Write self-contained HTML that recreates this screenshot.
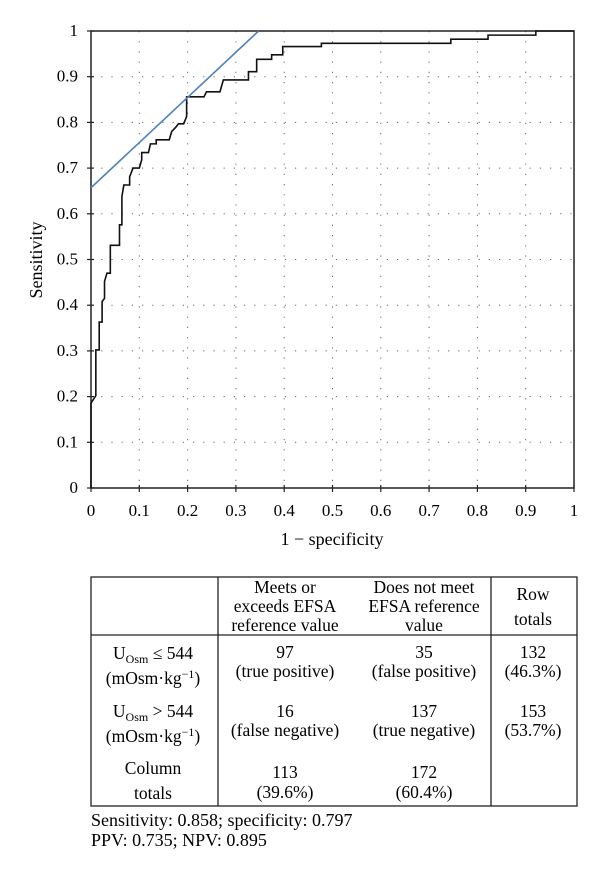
<!DOCTYPE html>
<html><head><meta charset="utf-8"><style>
html,body{margin:0;padding:0;background:#fff;}
svg{display:block;font-family:"Liberation Serif",serif;}
</style></head><body>
<svg id="chart" width="600" height="882" viewBox="0 0 600 882">
<g id="grid"></g>
<g id="axes"></g>
<g id="series"></g>
<text x="332" y="545" font-size="18" text-anchor="middle">1 − specificity</text>
<text transform="translate(42,260) rotate(-90)" font-size="18" text-anchor="middle">Sensitivity</text>

<g font-size="17.5" text-anchor="middle">
<rect x="91" y="577" width="486" height="229" fill="none" stroke="#222" stroke-width="1.3"/>
<line x1="218" y1="577" x2="218" y2="806" stroke="#222" stroke-width="1.3"/>
<line x1="491" y1="577" x2="491" y2="806" stroke="#222" stroke-width="1.3"/>
<line x1="91" y1="635" x2="577" y2="635" stroke="#222" stroke-width="1.3"/>
<g><text x="285" y="593">Meets or</text><text x="285" y="612">exceeds EFSA</text><text x="285" y="631">reference value</text></g>
<g><text x="424" y="593">Does not meet</text><text x="424" y="612">EFSA reference</text><text x="424" y="631">value</text></g>
<g><text x="533" y="600">Row</text><text x="533" y="625">totals</text></g>
<g><text x="153" y="659">U<tspan font-size="12" dy="4">Osm</tspan><tspan dy="-4"> ≤ 544</tspan></text><text x="153" y="684">(mOsm·kg<tspan font-size="12" dy="-6">−1</tspan><tspan dy="6">)</tspan></text></g>
<g><text x="285" y="658">97</text><text x="285" y="677">(true positive)</text></g>
<g><text x="424" y="658">35</text><text x="424" y="677">(false positive)</text></g>
<g><text x="533" y="658">132</text><text x="533" y="677">(46.3%)</text></g>
<g><text x="153" y="717">U<tspan font-size="12" dy="4">Osm</tspan><tspan dy="-4"> &gt; 544</tspan></text><text x="153" y="742">(mOsm·kg<tspan font-size="12" dy="-6">−1</tspan><tspan dy="6">)</tspan></text></g>
<g><text x="285" y="717">16</text><text x="285" y="736">(false negative)</text></g>
<g><text x="424" y="717">137</text><text x="424" y="736">(true negative)</text></g>
<g><text x="533" y="717">153</text><text x="533" y="736">(53.7%)</text></g>
<g><text x="153" y="774">Column</text><text x="153" y="799">totals</text></g>
<g><text x="285" y="778">113</text><text x="285" y="798">(39.6%)</text></g>
<g><text x="424" y="778">172</text><text x="424" y="798">(60.4%)</text></g>
</g>
<text x="91" y="826" font-size="18">Sensitivity: 0.858; specificity: 0.797</text>
<text x="91" y="846" font-size="18" dy="0">PPV: 0.735; NPV: 0.895</text>
</svg>
<script>
const xTicks = [0,0.1,0.2,0.3,0.4,0.5,0.6,0.7,0.8,0.9,1];
const yTicks = [0,0.1,0.2,0.3,0.4,0.5,0.6,0.7,0.8,0.9,1];
const xTickLabels = ["0","0.1","0.2","0.3","0.4","0.5","0.6","0.7","0.8","0.9","1"];
const yTickLabels = ["0","0.1","0.2","0.3","0.4","0.5","0.6","0.7","0.8","0.9","1"];
const rocFpr  = [0,0,0.01,0.01,0.017,0.017,0.023,0.023,0.028,0.028,0.033,0.04,0.04,0.059,0.059,0.064,0.064,0.068,0.08,0.08,0.087,0.087,0.1,0.105,0.105,0.119,0.123,0.135,0.135,0.162,0.167,0.176,0.181,0.192,0.198,0.198,0.234,0.239,0.267,0.274,0.326,0.326,0.343,0.343,0.374,0.374,0.397,0.397,0.477,0.477,0.745,0.745,0.822,0.822,0.921,0.921,1];
const rocTpr  = [0,0.186,0.202,0.302,0.302,0.363,0.363,0.408,0.415,0.452,0.47,0.47,0.531,0.531,0.576,0.576,0.638,0.663,0.663,0.681,0.70,0.70,0.70,0.718,0.734,0.734,0.753,0.753,0.762,0.762,0.78,0.79,0.797,0.797,0.813,0.856,0.856,0.867,0.867,0.893,0.893,0.911,0.911,0.938,0.938,0.948,0.948,0.966,0.966,0.973,0.973,0.982,0.982,0.991,0.991,1,1];
const tangentX = [0,0.347];
const tangentY = [0.657,1];

const X0=91,X1=574,Y0=488,Y1=31;
const sx=v=>X0+v*(X1-X0);
const sy=v=>Y0-v*(Y0-Y1);
const NS="http://www.w3.org/2000/svg";
function mk(tag,parent){const e=document.createElementNS(NS,tag);document.getElementById(parent).appendChild(e);return e;}

xTicks.forEach((t,i)=>{
  if(i>0&&i<xTicks.length-1){
    const g=mk('line','grid');
    
    
    g.setAttribute('x1',sx(t));g.setAttribute('x2',sx(t));g.setAttribute('y1',Y1);g.setAttribute('y2',Y0);
    g.setAttribute('stroke','#666');g.setAttribute('stroke-width','1');g.setAttribute('stroke-dasharray','1.2 9');
  }
  const tk=mk('line','axes');
  
  
  tk.setAttribute('x1',sx(t));tk.setAttribute('x2',sx(t));tk.setAttribute('y1',Y0-3);tk.setAttribute('y2',Y0+4);
  tk.setAttribute('stroke','#222');tk.setAttribute('stroke-width','1.2');
  const lb=mk('text','axes');
  
  
  lb.setAttribute('x',sx(t));lb.setAttribute('y',Y0+28);lb.setAttribute('font-size','17');lb.setAttribute('text-anchor','middle');
  lb.textContent=xTickLabels[i];
});
yTicks.forEach((t,i)=>{
  if(i>0&&i<yTicks.length-1){
    const g=mk('line','grid');
    
    
    g.setAttribute('x1',X0);g.setAttribute('x2',X1);g.setAttribute('y1',sy(t));g.setAttribute('y2',sy(t));
    g.setAttribute('stroke','#666');g.setAttribute('stroke-width','1');g.setAttribute('stroke-dasharray','1.2 9');
  }
  const tk=mk('line','axes');
  
  
  tk.setAttribute('x1',X0-4);tk.setAttribute('x2',X0+3);tk.setAttribute('y1',sy(t));tk.setAttribute('y2',sy(t));
  tk.setAttribute('stroke','#222');tk.setAttribute('stroke-width','1.2');
  const lb=mk('text','axes');
  
  
  lb.setAttribute('x',X0-13);lb.setAttribute('y',sy(t)+5);lb.setAttribute('font-size','17');lb.setAttribute('text-anchor','end');
  lb.textContent=yTickLabels[i];
});
const frame=mk('path','axes');


frame.setAttribute('d',`M${X0},${Y1}L${X1},${Y1}L${X1},${Y0}L${X0},${Y0}Z`);
frame.setAttribute('fill','none');frame.setAttribute('stroke','#222');frame.setAttribute('stroke-width','1.5');

const roc=mk('polyline','series');


roc.setAttribute('points',rocFpr.map((v,i)=>sx(v)+','+sy(rocTpr[i])).join(' '));
roc.setAttribute('fill','none');roc.setAttribute('stroke','#111');roc.setAttribute('stroke-width','1.6');

const tan=mk('line','series');


tan.setAttribute('x1',sx(tangentX[0]));tan.setAttribute('y1',sy(tangentY[0]));
tan.setAttribute('x2',sx(tangentX[1]));tan.setAttribute('y2',sy(tangentY[1]));
tan.setAttribute('stroke','#4f81bd');tan.setAttribute('stroke-width','1.6');
</script>
</body></html>
